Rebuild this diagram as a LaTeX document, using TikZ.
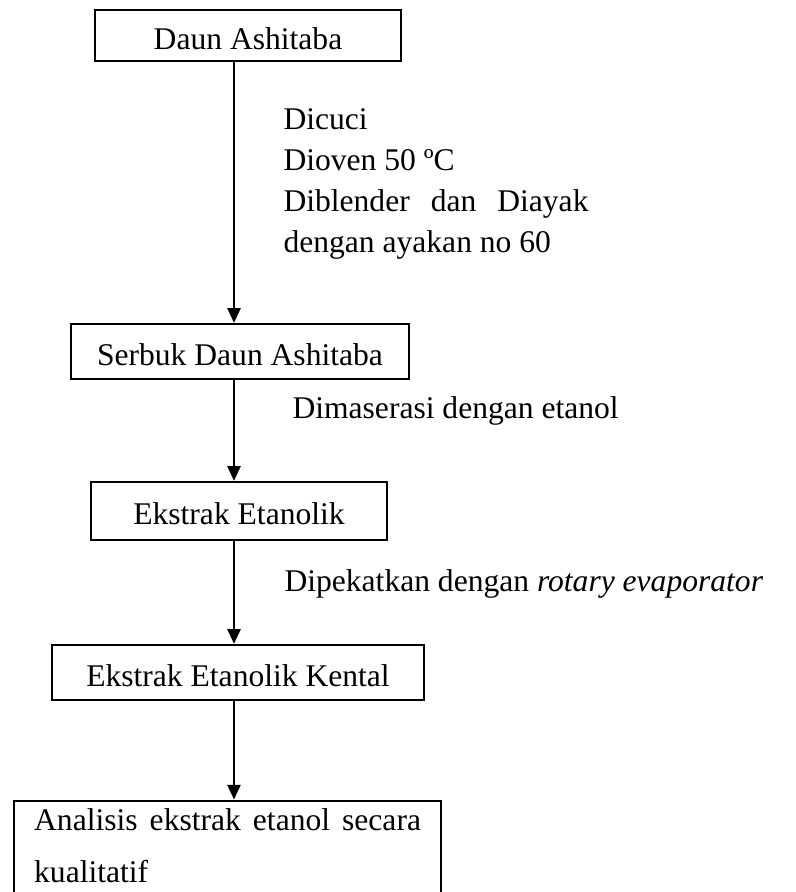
\documentclass[tikz,border=0pt,12pt]{standalone}
\usepackage{fontspec}
\setmainfont{Liberation Serif}
\usetikzlibrary{arrows.meta}
\newlength{\pxl}
\setlength{\pxl}{0.38pt}
\tolerance=10000
\hbadness=10000

\tikzset{
	stage/.style={draw, line width=0.9pt, inner sep=0pt, text height=10.3pt, text depth=0pt},
	laststage/.style={draw, line width=0.9pt, inner xsep=7.6pt, inner ysep=2.8pt, text width=147pt, align=justify, anchor=base west, font=\fontsize{12}{20.1}\selectfont},
	flow/.style={line width=0.8pt, -{Triangle[length=5.6pt,width=5pt]}},
	note/.style={inner sep=0pt, anchor=base west},
}

\begin{document}
\begin{tikzpicture}[x=0.38pt, y=-0.38pt]
			\useasboundingbox (0,0) rectangle (795,892);
			\clip (0,0) rectangle (795,892);

			\node[stage, minimum width=306\pxl, minimum height=51\pxl] (daun) at (248,35.5) {Daun Ashitaba};
			\node[stage, minimum width=338\pxl, minimum height=55\pxl] (serbuk) at (240,351.5) {Serbuk Daun Ashitaba};
			\node[stage, minimum width=296\pxl, minimum height=58\pxl] (ekstrak) at (239,511) {Ekstrak Etanolik};
			\node[stage, minimum width=372\pxl, minimum height=55\pxl] (kental) at (238,672.5) {Ekstrak Etanolik Kental};
			\node[laststage] (analisis) at (13,830) {Analisis ekstrak etanol secara kualitatif\rule[-8pt]{0pt}{0pt}};

			\coordinate (ax) at (234,0);
			\draw[flow] (ax |- daun.south) -- (ax |- serbuk.north);
			\draw[flow] (ax |- serbuk.south) -- (ax |- ekstrak.north);
			\draw[flow] (ax |- ekstrak.south) -- (ax |- kental.north);
			\draw[flow] (ax |- kental.south) -- (ax |- analisis.north);

			\node[note, text width=115.9pt, align=justify, font=\fontsize{12}{15.6}\selectfont] (cuci) at (283,129) {Dicuci\\Dioven 50 ºC\\Diblender dan Diayak dengan ayakan no 60};
			\node[note] (maserasi) at (292,418) {Dimaserasi dengan etanol};
			\node[note] (pekat) at (284,591) {Dipekatkan dengan \textit{rotary evaporator}};
\end{tikzpicture}
\end{document}
